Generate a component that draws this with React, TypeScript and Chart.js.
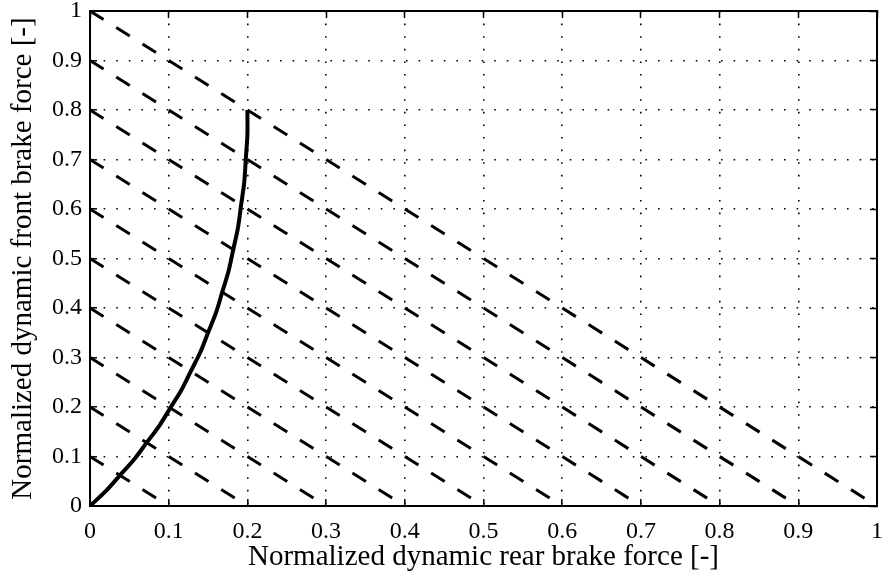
import React, { useEffect, useRef } from "react";
import { Chart, registerables } from "chart.js";

Chart.register(...registerables);

// Ideal brake force distribution curve
const curveRear = [0, 0.02, 0.038, 0.056, 0.072, 0.088, 0.102, 0.116, 0.128, 0.14, 0.15, 0.16, 0.168, 0.176, 0.182, 0.188, 0.192, 0.196, 0.198, 0.2, 0.2];
const curveFront = [0, 0.03, 0.062, 0.094, 0.128, 0.162, 0.198, 0.234, 0.272, 0.31, 0.35, 0.39, 0.432, 0.474, 0.518, 0.562, 0.608, 0.654, 0.702, 0.75, 0.8];

// Constant total brake force lines (front + rear = level)
const levels = [0.1, 0.2, 0.3, 0.4, 0.5, 0.6, 0.7, 0.8, 0.9, 1.0];

const tickLabels = ["0", "0.1", "0.2", "0.3", "0.4", "0.5", "0.6", "0.7", "0.8", "0.9", "1"];

const xTitle = "Normalized dynamic rear brake force [-]";
const yTitle = "Normalized dynamic front brake force [-]";

const FONT = "'Liberation Serif', 'Times New Roman', serif";

export default function App() {
  const ref = useRef<HTMLCanvasElement | null>(null);

  useEffect(() => {
    if (!ref.current) return;

    const datasets: any[] = levels.map((k) => ({
      data: [
        { x: 0, y: k },
        { x: k, y: 0 },
      ],
      borderColor: "#000",
      borderWidth: 3,
      borderDash: [16, 15],
      pointRadius: 0,
      fill: false,
      tension: 0,
    }));

    datasets.push({
      data: curveRear.map((x, i) => ({ x, y: curveFront[i] })),
      borderColor: "#000",
      borderWidth: 4,
      pointRadius: 0,
      fill: false,
      tension: 0.3,
    });

    const tickFont = { family: FONT, size: 24, lineHeight: 1.2 };
    const titleFont = { family: FONT, size: 29, lineHeight: 1.2 };
    const fmt = (v: any, i: number) => tickLabels[i] ?? "";

    const chart = new Chart(ref.current, {
      type: "line",
      data: { datasets },
      options: {
        animation: false,
        responsive: false,
        events: [],
        layout: { padding: { top: 11, right: 6, bottom: 0, left: 0 } },
        plugins: { legend: { display: false }, tooltip: { enabled: false } },
        scales: {
          x: {
            type: "linear",
            position: "bottom",
            min: 0,
            max: 1,
            ticks: { stepSize: 0.1, color: "#000", font: tickFont, padding: 18, maxRotation: 0, callback: fmt },
            grid: { color: "#000", lineWidth: 1.6, tickLength: -7, tickColor: "#000", tickWidth: 1.5 },
            border: { display: true, color: "#000", width: 2, dash: [1.6, 11] },
            title: { display: true, text: xTitle, color: "#000", font: titleFont, padding: { top: 0, bottom: 9 } },
            afterFit: (s: any) => {
              s.height = 78;
              s.paddingLeft = 0;
              s.paddingRight = 0;
            },
          },
          y: {
            type: "linear",
            position: "left",
            min: 0,
            max: 1,
            ticks: { stepSize: 0.1, color: "#000", font: tickFont, padding: 15, callback: fmt },
            grid: { color: "#000", lineWidth: 1.6, tickLength: -7, tickColor: "#000", tickWidth: 1.5 },
            border: { display: true, color: "#000", width: 2, dash: [1.6, 11] },
            title: { display: true, text: yTitle, color: "#000", font: titleFont, padding: { top: 6, bottom: 0 } },
            afterFit: (s: any) => {
              s.width = 90;
              s.paddingTop = 0;
              s.paddingBottom = 0;
            },
          },
          x2: {
            type: "linear",
            position: "top",
            min: 0,
            max: 1,
            ticks: { stepSize: 0.1, display: false },
            grid: { color: "rgba(0,0,0,0)", tickLength: -7, tickColor: "#000", tickWidth: 1.5 },
            border: { display: true, color: "#000", width: 2 },
            afterFit: (s: any) => {
              s.height = 0;
              s.paddingLeft = 0;
              s.paddingRight = 0;
            },
          },
          y2: {
            type: "linear",
            position: "right",
            min: 0,
            max: 1,
            ticks: { stepSize: 0.1, display: false },
            grid: { color: "rgba(0,0,0,0)", tickLength: -7, tickColor: "#000", tickWidth: 1.5 },
            border: { display: true, color: "#000", width: 2 },
            afterFit: (s: any) => {
              s.width = 0;
              s.paddingTop = 0;
              s.paddingBottom = 0;
            },
          },
        },
      } as any,
    });

    return () => chart.destroy();
  }, []);

  return (
    <div style={{ position: "fixed", left: 0, top: 0, width: 883, height: 584, background: "#fff" }}>
      <canvas ref={ref} width={883} height={584} style={{ display: "block" }} />
    </div>
  );
}
